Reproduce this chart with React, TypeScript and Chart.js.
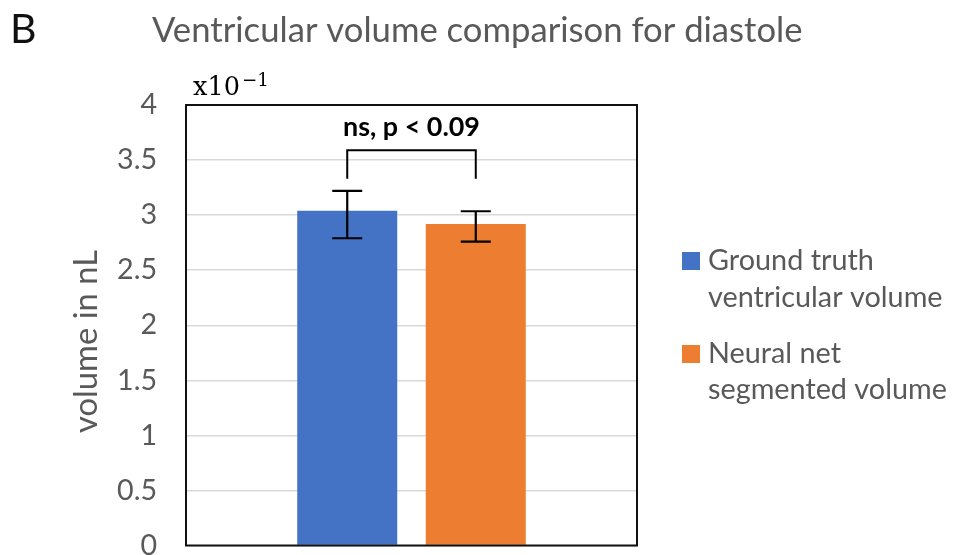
import React, { useEffect, useRef } from "react";
import { Chart, registerables } from "chart.js";

Chart.register(...registerables);

// ---- data ----
const categories = [""];
const seriesNames = ["Ground truth ventricular volume", "Neural net segmented volume"];
const legendLines = [["Ground truth", "ventricular volume"], ["Neural net", "segmented volume"]];
const meanValues = [3.04, 2.92];
const errLow = [2.79, 2.76];
const errHigh = [3.22, 3.035];
const seriesColors = ["#4472C4", "#ED7D31"];
const yMin = 0;
const yMax = 4;
const yStep = 0.5;
const sigLabel = "ns, p < 0.09";
const bracketTop = 3.59;
const bracketBottom = 3.33;
const titleText = "Ventricular volume comparison for diastole";
const panelLetter = "B";
const yTitleText = "volume in nL";
const multiplierBase = "x10";
const multiplierExp = "\u22121";

const FONT = "Lato, 'Open Sans', sans-serif";
const GRAY = "#595959";

const measureCtx = (() => {
  const c = document.createElement("canvas");
  return c.getContext("2d") as CanvasRenderingContext2D;
})();

function fitSize(text: string, weight: string, family: string, targetW: number) {
  measureCtx.font = `${weight} 100px ${family}`;
  const w = measureCtx.measureText(text).width;
  return (100 * targetW) / w;
}

const tickSize = fitSize("3.5", "normal", FONT, 40);

const overlayPlugin = {
  id: "overlay",
  afterDatasetsDraw(chart: any) {
    const ctx = chart.ctx as CanvasRenderingContext2D;
    const ya = chart.scales.y;
    const area = chart.chartArea;
    ctx.save();
    // error bars
    ctx.strokeStyle = "#000";
    ctx.lineWidth = 2.2;
    for (let i = 0; i < meanValues.length; i++) {
      const el = chart.getDatasetMeta(i).data[0];
      const x = el.x;
      const yl = ya.getPixelForValue(errLow[i]);
      const yh = ya.getPixelForValue(errHigh[i]);
      ctx.beginPath();
      ctx.moveTo(x, yl);
      ctx.lineTo(x, yh);
      ctx.moveTo(x - 15, yl);
      ctx.lineTo(x + 15, yl);
      ctx.moveTo(x - 15, yh);
      ctx.lineTo(x + 15, yh);
      ctx.stroke();
    }
    // significance bracket
    const x0 = chart.getDatasetMeta(0).data[0].x;
    const x1 = chart.getDatasetMeta(1).data[0].x;
    const bt = ya.getPixelForValue(bracketTop);
    const bb = ya.getPixelForValue(bracketBottom);
    ctx.lineWidth = 2;
    ctx.beginPath();
    ctx.moveTo(x0, bb);
    ctx.lineTo(x0, bt);
    ctx.lineTo(x1, bt);
    ctx.lineTo(x1, bb);
    ctx.stroke();
    const sSize = fitSize(sigLabel, "bold", FONT, 137);
    ctx.font = `bold ${sSize}px ${FONT}`;
    ctx.fillStyle = "#000";
    ctx.textAlign = "center";
    ctx.textBaseline = "alphabetic";
    ctx.fillText(sigLabel, (x0 + x1) / 2, bt - 14);
    // plot border
    ctx.lineWidth = 2;
    ctx.strokeStyle = "#111";
    ctx.strokeRect(area.left, area.top, area.right - area.left, area.bottom - area.top);
    ctx.restore();
  },
  afterDraw(chart: any) {
    const ctx = chart.ctx as CanvasRenderingContext2D;
    const area = chart.chartArea;
    ctx.save();
    ctx.textBaseline = "alphabetic";
    // panel letter
    ctx.font = `normal 41px ${FONT}`;
    ctx.fillStyle = "#111";
    ctx.textAlign = "left";
    ctx.fillText(panelLetter, 10, 43);
    // title
    const tSize = fitSize(titleText, "normal", FONT, 651);
    ctx.font = `normal ${tSize}px ${FONT}`;
    ctx.fillStyle = GRAY;
    ctx.fillText(titleText, 152, 42);
    // multiplier
    const serif = "'DejaVu Serif', 'Liberation Serif', serif";
    const mSize = fitSize(multiplierBase, "normal", serif, 47);
    ctx.font = `normal ${mSize}px ${serif}`;
    ctx.fillStyle = "#000";
    ctx.fillText(multiplierBase, area.left + 7, 95);
    const eSize = fitSize(multiplierExp, "normal", serif, 27);
    ctx.font = `normal ${eSize}px ${serif}`;
    ctx.fillText(multiplierExp, area.left + 56, 86);
    // y title
    const ySize = fitSize(yTitleText, "normal", FONT, 183);
    ctx.font = `normal ${ySize}px ${FONT}`;
    ctx.fillStyle = GRAY;
    ctx.translate(97, 341.5);
    ctx.rotate(-Math.PI / 2);
    ctx.textAlign = "center";
    ctx.fillText(yTitleText, 0, 0);
    ctx.setTransform(1, 0, 0, 1, 0, 0);
    // legend
    const lSize = fitSize("segmented volume", "normal", FONT, 239);
    ctx.font = `normal ${lSize}px ${FONT}`;
    ctx.textAlign = "left";
    const baselines = [[270, 307], [363, 399]];
    for (let i = 0; i < legendLines.length; i++) {
      ctx.fillStyle = seriesColors[i];
      ctx.fillRect(682, baselines[i][0] - 18, 18, 18);
      ctx.fillStyle = GRAY;
      legendLines[i].forEach((ln, j) => ctx.fillText(ln, 708, baselines[i][j]));
    }
    ctx.restore();
  },
};

export default function App() {
  const ref = useRef<HTMLCanvasElement>(null);
  useEffect(() => {
    if (!ref.current) return;
    const chart = new Chart(ref.current, {
      type: "bar",
      data: {
        labels: categories,
        datasets: meanValues.map((v, i) => ({
          label: seriesNames[i],
          data: [v],
          backgroundColor: seriesColors[i],
          borderWidth: 0,
          categoryPercentage: 0.57,
          barPercentage: 0.778,
        })),
      },
      options: {
        responsive: false,
        animation: false,
        devicePixelRatio: 1,
        layout: { padding: { left: 0, top: 105, right: 326, bottom: 34.5 } },
        plugins: {
          legend: { display: false },
          title: { display: false },
          tooltip: { enabled: false },
        },
        scales: {
          x: { display: false },
          y: {
            min: yMin,
            max: yMax,
            ticks: {
              stepSize: yStep,
              padding: 29,
              color: GRAY,
              font: { family: FONT, size: tickSize },
              callback: (v: any) => String(Number(v)),
            },
            grid: { color: "#D9D9D9", lineWidth: 1.5, drawTicks: false },
            border: { display: false },
            afterFit: (scale: any) => {
              scale.width = 186;
              scale.paddingTop = 0;
              scale.paddingBottom = 0;
            },
          },
        },
      },
      plugins: [overlayPlugin],
    });
    return () => chart.destroy();
  }, []);
  return (
    <div style={{ position: "absolute", left: 0, top: 0, width: 963, height: 555, overflow: "hidden", background: "#fff" }}>
      <canvas ref={ref} width={963} height={580} />
    </div>
  );
}
